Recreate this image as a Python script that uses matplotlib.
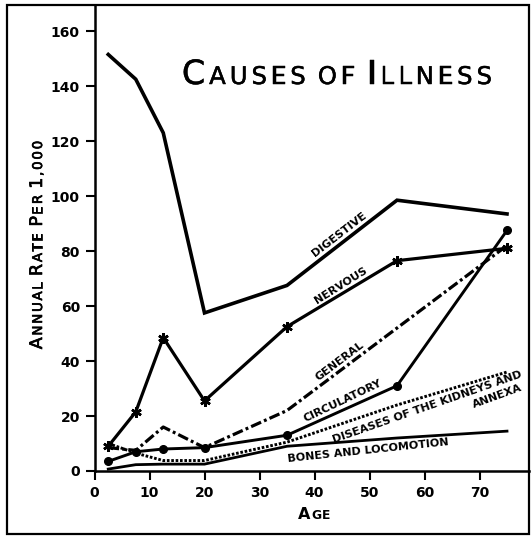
import matplotlib
matplotlib.use('Agg')
import matplotlib.pyplot as plt
import matplotlib.patheffects as pe
from matplotlib.patches import Rectangle

# age groups (mid points) and annual rate per 1,000
ages = [2.5, 7.5, 12.5, 20, 35, 55, 75]
digestive = [151.5, 142.5, 123, 57.5, 67.5, 98.5, 93.5]
nervous = [9, 21.5, 48.5, 25.5, 52.5, 76.5, 81]
general = [8.5, 7.5, 16, 8.5, 22, 52, 82]
circulatory = [3.5, 7, 8, 8.5, 13, 31, 87.5]
kidneys = [10, 6.5, 3.8, 3.8, 10.5, 24, 36]
bones = [0.7, 2.3, 2.5, 2.5, 9, 12, 14.5]

W, H = 531, 537
fig = plt.figure(figsize=(W / 100, H / 100), dpi=100)
fig.patch.set_facecolor('white')
ax = fig.add_axes([94.5 / W, 66 / H, 434.5 / W, 466 / H])

# outer frame
fig.patches.append(Rectangle((6.5 / W, 3 / H), 522.5 / W, 529 / H, fill=False,
                             lw=1.6, color='black', transform=fig.transFigure))

k = 'black'
ax.plot(ages, digestive, color=k, lw=2.6, solid_joinstyle='miter')
ax.plot(ages, nervous, color=k, lw=2.3, marker=(6, 2, 0), ms=7.5, mew=1.8)
ax.plot(ages, general, color=k, lw=2.3, dashes=(3.4, 1.0, 0.9, 1.0))
ax.plot(ages, circulatory, color=k, lw=2.1, marker='o', ms=5.5)
ax.plot(ages, kidneys, color=k, lw=2.1, dashes=(0.9, 0.6))
ax.plot(ages, bones, color=k, lw=2.0)

# series labels along the lines
lab = dict(ha='center', va='center', rotation_mode='anchor', fontsize=8, weight='bold')
ax.text(44.5, 86.2, 'DIGESTIVE', rotation=37.7, **lab)
ax.text(44.8, 67.6, 'NERVOUS', rotation=32, **lab)
ax.text(44.6, 40, 'GENERAL', rotation=37, **lab)
ax.text(45.2, 25.5, 'CIRCULATORY', rotation=25.5, **lab)
ax.text(60.5, 23.3, 'DISEASES OF THE KIDNEYS AND', rotation=19.3, **lab)
ax.text(73.2, 27.3, 'ANNEXA', rotation=20, **lab)
ax.text(49.7, 7.3, 'BONES AND LOCOMOTION', rotation=6, **lab)

ax.set_xlim(0, 79)
ax.set_ylim(0, 169.5)
for s in ['top', 'right']:
    ax.spines[s].set_visible(False)
for s in ['left', 'bottom']:
    ax.spines[s].set_linewidth(1.8)
ax.set_xticks(range(0, 71, 10))
ax.set_yticks(range(0, 161, 20))
ax.tick_params(direction='out', length=6.5, width=1.5, labelsize=10, pad=4)
for t in ax.get_xticklabels() + ax.get_yticklabels():
    t.set_fontweight('bold')


def small_caps(s, cx, cy, big, small, rot=0, weight='normal', track=0.0, stroke=0):
    # draw text in small capitals, one letter at a time, centred in pixels
    r = fig.canvas.get_renderer()
    chars = []
    for ch in s:
        if ch == ' ':
            chars.append((None, 0.33 * small * 100 / 72))
            continue
        sz = big if (ch.isupper() or ch == '1') else small
        t = fig.text(0, 0, ch.upper(), fontsize=sz, weight=weight)
        w = t.get_window_extent(r).width
        t.remove()
        chars.append(((ch.upper(), sz), w + track))
    pos = -(sum(w for _, w in chars) - track) / 2
    fx = [pe.withStroke(linewidth=stroke, foreground='black')] if stroke else []
    for c, w in chars:
        if c is not None:
            if rot == 0:
                x, y = cx + pos, cy
            else:
                x, y = cx, cy + pos
            fig.text(x / W, y / H, c[0], fontsize=c[1], weight=weight, rotation=rot,
                     rotation_mode='anchor', ha='left', va='baseline', path_effects=fx)
        pos += w


small_caps('Causes of Illness', 337, H - 84, 24, 17.5, track=4.0, stroke=0.35)
small_caps('Annual Rate Per 1,000', 42, H - 245, 12.5, 9.6, rot=90, track=1.8, stroke=0.5)
small_caps('Age', 314, H - 519, 11.5, 8.8, weight='bold', track=0.5)

fig.savefig('out.png', dpi=100)
